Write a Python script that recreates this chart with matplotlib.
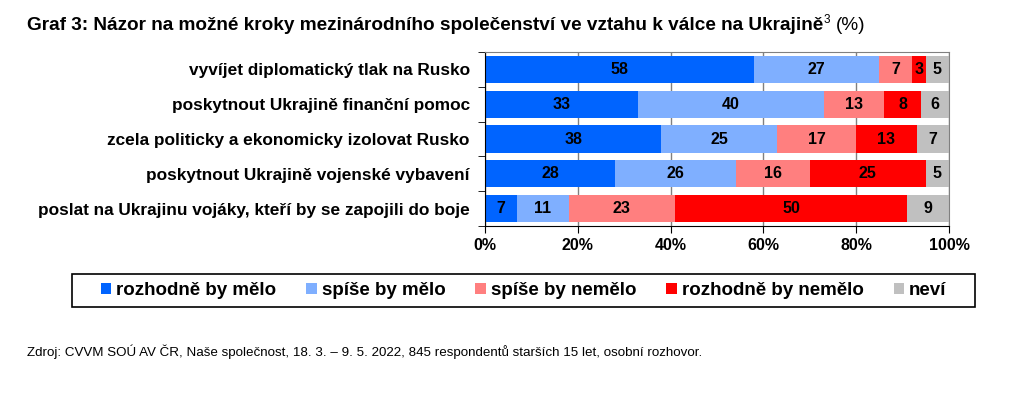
import numpy as np
import matplotlib
matplotlib.use("Agg")
import matplotlib.pyplot as plt
from matplotlib.patches import Rectangle

plt.rcParams['font.family'] = ['Liberation Sans', 'DejaVu Sans']

# data
items = ["vyvíjet diplomatický tlak na Rusko",
         "poskytnout Ukrajině finanční pomoc",
         "zcela politicky a ekonomicky izolovat Rusko",
         "poskytnout Ukrajině vojenské vybavení",
         "poslat na Ukrajinu vojáky, kteří by se zapojili do boje"]
series = ["rozhodně by mělo", "spíše by mělo", "spíše by nemělo",
          "rozhodně by nemělo", "neví"]
rozhodne_ano = [58, 33, 38, 28, 7]
spise_ano = [27, 40, 25, 26, 11]
spise_ne = [7, 13, 17, 16, 23]
rozhodne_ne = [3, 8, 13, 25, 50]
nevi = [5, 6, 7, 5, 9]
colors = ["#0064FF", "#7FAFFF", "#FF7F7F", "#FF0000", "#C0C0C0"]
xticks = [0, 20, 40, 60, 80, 100]

W, H = 1028, 398
fig = plt.figure(figsize=(W / 100, H / 100), dpi=100)
ax = fig.add_axes([485 / W, 1 - 226 / H, 464 / W, 174 / H])

y = np.arange(len(items))
left = np.zeros(len(items))
for vals, name, col in zip([rozhodne_ano, spise_ano, spise_ne, rozhodne_ne, nevi], series, colors):
    vals = np.array(vals)
    ax.barh(y, vals, left=left, height=0.78, color=col, label=name, zorder=2)
    for yi, l, v in zip(y, left, vals):
        ax.text(l + v / 2, yi, str(v), ha='center', va='center',
                fontsize=11.5, fontweight='bold', color='black', zorder=3)
    left += vals

ax.set_xlim(0, 100)
ax.set_ylim(len(items) - 0.5, -0.5)
ax.set_xticks(xticks)
ax.set_xticklabels([f"{t}%" for t in xticks], fontsize=11.5, fontweight='bold')
ax.set_yticks(y)
ax.set_yticklabels(items, fontsize=12.4, fontweight='bold')
ax.tick_params(axis='y', length=0, pad=11)
ax.set_yticks(np.arange(len(items) + 1) - 0.5, minor=True)
ax.tick_params(axis='y', which='minor', length=5, color='black', direction='out')
ax.tick_params(axis='x', length=5, color='black', direction='out', pad=4)
ax.grid(axis='x', color='#808080', linewidth=1, zorder=0)
ax.set_axisbelow(True)
for s in ['top', 'right']:
    ax.spines[s].set_color('#808080')
for s in ['left', 'bottom']:
    ax.spines[s].set_color('black')

# title with superscript and non-bold suffix
fig.canvas.draw()
r = fig.canvas.get_renderer()
ty = 1 - 30 / H
t1 = fig.text(27 / W, ty, "Graf 3: Názor na možné kroky mezinárodního společenství ve vztahu k válce na Ukrajině",
              fontsize=13.7, fontweight='bold', va='baseline')
bb = t1.get_window_extent(r)
t2 = fig.text(bb.x1 / W + 0.0005, ty + 7 / H, "3", fontsize=8.5, va='baseline')
bb2 = t2.get_window_extent(r)
fig.text(bb2.x1 / W + 0.005, ty, "(%)", fontsize=13.7, va='baseline')

# legend with a hand-drawn frame
handles, labels = ax.get_legend_handles_labels()
fig.legend(handles, labels, loc='center', ncol=5,
           bbox_to_anchor=(523.5 / W, 1 - 290.5 / H),
           prop={'size': 13.5, 'weight': 'bold'}, frameon=False,
           handlelength=0.55, handleheight=0.55, handletextpad=0.27,
           borderpad=0.2, columnspacing=1.6)
fig.patches.append(Rectangle((72 / W, 1 - 307 / H), 903 / W, 33 / H,
                             transform=fig.transFigure, fill=False,
                             edgecolor='black', linewidth=1.2))

fig.text(27 / W, 1 - 356 / H, "Zdroj: CVVM SOÚ AV ČR, Naše společnost, 18. 3. – 9. 5. 2022, 845 respondentů starších 15 let, osobní rozhovor.",
         fontsize=9.6, va='baseline')

fig.savefig("out.png", dpi=100)
